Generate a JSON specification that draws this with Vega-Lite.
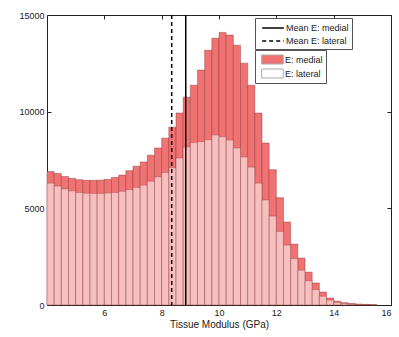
{
  "$schema": "https://vega.github.io/schema/vega-lite/v6.json",
  "width": 344,
  "height": 290,
  "autosize": {"type": "none"},
  "padding": {"left": 47, "top": 15, "right": 8, "bottom": 32},
  "background": "white",
  "config": {
    "view": {"stroke": "#222", "strokeWidth": 1},
    "font": "Liberation Sans",
    "axis": {"domainColor": "#222", "tickColor": "#222", "labelColor": "#222", "titleColor": "#222", "labelFontSize": 9, "titleFontSize": 10, "titleFontWeight": "normal", "grid": false, "tickSize": -4, "labelPadding": 7},
    "legend": {"title": null, "orient": "none", "strokeColor": "#555", "fillColor": "white", "padding": 3, "labelFontSize": 9, "labelFont": "Liberation Sans", "labelColor": "#222", "symbolSize": 144, "symbolOffset": 8, "labelOffset": 6, "rowPadding": 1}
  },
  "datasets": {
    "bins": [
      {"e":4.00,"e2":4.25,"series":"E: medial","count":6900},{"e":4.25,"e2":4.50,"series":"E: medial","count":6800},
      {"e":4.50,"e2":4.75,"series":"E: medial","count":6650},{"e":4.75,"e2":5.00,"series":"E: medial","count":6550},
      {"e":5.00,"e2":5.25,"series":"E: medial","count":6480},{"e":5.25,"e2":5.50,"series":"E: medial","count":6450},
      {"e":5.50,"e2":5.75,"series":"E: medial","count":6450},{"e":5.75,"e2":6.00,"series":"E: medial","count":6460},
      {"e":6.00,"e2":6.25,"series":"E: medial","count":6500},{"e":6.25,"e2":6.50,"series":"E: medial","count":6600},
      {"e":6.50,"e2":6.75,"series":"E: medial","count":6720},{"e":6.75,"e2":7.00,"series":"E: medial","count":6950},
      {"e":7.00,"e2":7.25,"series":"E: medial","count":7180},{"e":7.25,"e2":7.50,"series":"E: medial","count":7400},
      {"e":7.50,"e2":7.75,"series":"E: medial","count":7750},{"e":7.75,"e2":8.00,"series":"E: medial","count":8120},
      {"e":8.00,"e2":8.25,"series":"E: medial","count":8630},{"e":8.25,"e2":8.50,"series":"E: medial","count":9200},
      {"e":8.50,"e2":8.75,"series":"E: medial","count":9930},{"e":8.75,"e2":9.00,"series":"E: medial","count":10750},
      {"e":9.00,"e2":9.25,"series":"E: medial","count":11370},{"e":9.25,"e2":9.50,"series":"E: medial","count":12150},
      {"e":9.50,"e2":9.75,"series":"E: medial","count":13180},{"e":9.75,"e2":10.00,"series":"E: medial","count":13800},
      {"e":10.00,"e2":10.25,"series":"E: medial","count":14100},{"e":10.25,"e2":10.50,"series":"E: medial","count":13960},
      {"e":10.50,"e2":10.75,"series":"E: medial","count":13440},{"e":10.75,"e2":11.00,"series":"E: medial","count":12510},
      {"e":11.00,"e2":11.25,"series":"E: medial","count":11370},{"e":11.25,"e2":11.50,"series":"E: medial","count":9930},
      {"e":11.50,"e2":11.75,"series":"E: medial","count":8380},{"e":11.75,"e2":12.00,"series":"E: medial","count":7000},
      {"e":12.00,"e2":12.25,"series":"E: medial","count":5550},{"e":12.25,"e2":12.50,"series":"E: medial","count":4290},
      {"e":12.50,"e2":12.75,"series":"E: medial","count":3150},{"e":12.75,"e2":13.00,"series":"E: medial","count":2430},
      {"e":13.00,"e2":13.25,"series":"E: medial","count":1700},{"e":13.25,"e2":13.50,"series":"E: medial","count":1140},
      {"e":13.50,"e2":13.75,"series":"E: medial","count":670},{"e":13.75,"e2":14.00,"series":"E: medial","count":360},
      {"e":14.00,"e2":14.25,"series":"E: medial","count":200},{"e":14.25,"e2":14.50,"series":"E: medial","count":120},
      {"e":14.50,"e2":14.75,"series":"E: medial","count":80},{"e":14.75,"e2":15.00,"series":"E: medial","count":50},
      {"e":15.00,"e2":15.25,"series":"E: medial","count":30},{"e":15.25,"e2":15.50,"series":"E: medial","count":15},
      {"e":4.00,"e2":4.25,"series":"E: lateral","count":6300},{"e":4.25,"e2":4.50,"series":"E: lateral","count":6150},
      {"e":4.50,"e2":4.75,"series":"E: lateral","count":6000},{"e":4.75,"e2":5.00,"series":"E: lateral","count":5900},
      {"e":5.00,"e2":5.25,"series":"E: lateral","count":5820},{"e":5.25,"e2":5.50,"series":"E: lateral","count":5780},
      {"e":5.50,"e2":5.75,"series":"E: lateral","count":5770},{"e":5.75,"e2":6.00,"series":"E: lateral","count":5770},
      {"e":6.00,"e2":6.25,"series":"E: lateral","count":5790},{"e":6.25,"e2":6.50,"series":"E: lateral","count":5820},
      {"e":6.50,"e2":6.75,"series":"E: lateral","count":5880},{"e":6.75,"e2":7.00,"series":"E: lateral","count":5970},
      {"e":7.00,"e2":7.25,"series":"E: lateral","count":6080},{"e":7.25,"e2":7.50,"series":"E: lateral","count":6200},
      {"e":7.50,"e2":7.75,"series":"E: lateral","count":6400},{"e":7.75,"e2":8.00,"series":"E: lateral","count":6620},
      {"e":8.00,"e2":8.25,"series":"E: lateral","count":6850},{"e":8.25,"e2":8.50,"series":"E: lateral","count":7100},
      {"e":8.50,"e2":8.75,"series":"E: lateral","count":7600},{"e":8.75,"e2":9.00,"series":"E: lateral","count":8170},
      {"e":9.00,"e2":9.25,"series":"E: lateral","count":8400},{"e":9.25,"e2":9.50,"series":"E: lateral","count":8450},
      {"e":9.50,"e2":9.75,"series":"E: lateral","count":8550},{"e":9.75,"e2":10.00,"series":"E: lateral","count":8790},
      {"e":10.00,"e2":10.25,"series":"E: lateral","count":8700},{"e":10.25,"e2":10.50,"series":"E: lateral","count":8530},
      {"e":10.50,"e2":10.75,"series":"E: lateral","count":8120},{"e":10.75,"e2":11.00,"series":"E: lateral","count":7650},
      {"e":11.00,"e2":11.25,"series":"E: lateral","count":7130},{"e":11.25,"e2":11.50,"series":"E: lateral","count":6300},
      {"e":11.50,"e2":11.75,"series":"E: lateral","count":5430},{"e":11.75,"e2":12.00,"series":"E: lateral","count":4600},
      {"e":12.00,"e2":12.25,"series":"E: lateral","count":3800},{"e":12.25,"e2":12.50,"series":"E: lateral","count":3100},
      {"e":12.50,"e2":12.75,"series":"E: lateral","count":2400},{"e":12.75,"e2":13.00,"series":"E: lateral","count":1800},
      {"e":13.00,"e2":13.25,"series":"E: lateral","count":1250},{"e":13.25,"e2":13.50,"series":"E: lateral","count":800},
      {"e":13.50,"e2":13.75,"series":"E: lateral","count":450},{"e":13.75,"e2":14.00,"series":"E: lateral","count":250},
      {"e":14.00,"e2":14.25,"series":"E: lateral","count":130},{"e":14.25,"e2":14.50,"series":"E: lateral","count":70},
      {"e":14.50,"e2":14.75,"series":"E: lateral","count":35},{"e":14.75,"e2":15.00,"series":"E: lateral","count":20},
      {"e":15.00,"e2":15.25,"series":"E: lateral","count":10},{"e":15.25,"e2":15.50,"series":"E: lateral","count":5}
    ],
    "means": [
      {"series": "Mean E: medial", "mean": 8.84},
      {"series": "Mean E: lateral", "mean": 8.35}
    ]
  },
  "layer": [
    {
      "data": {"name": "bins"},
      "transform": [{"filter": "datum.series === 'E: medial'"}],
      "mark": {"type": "bar", "stroke": "#8a3030", "strokeWidth": 0.6, "strokeOpacity": 0.7},
      "encoding": {
        "x": {"field": "e", "type": "quantitative", "scale": {"domain": [4, 16], "nice": false, "zero": false},
              "axis": {"values": [6, 8, 10, 12, 14, 16], "title": "Tissue Modulus (GPa)", "titlePadding": 2}},
        "x2": {"field": "e2"},
        "y": {"field": "count", "type": "quantitative", "scale": {"domain": [0, 15000], "nice": false},
              "axis": {"values": [0, 5000, 10000, 15000], "title": null, "format": "d"}},
        "y2": {"datum": 0},
        "color": {"field": "series", "type": "nominal",
          "scale": {"domain": ["E: medial", "E: lateral"], "range": ["#f07272", "#ffffff"]},
          "legend": {
            "legendX": 208, "legendY": 35,
            "symbolType": "M-1.8,-0.75H1.8V0.75H-1.8Z", "symbolStrokeColor": "#aaaaaa", "symbolStrokeWidth": 1, "symbolOpacity": 1
          }}
      }
    },
    {
      "data": {"name": "bins"},
      "transform": [{"filter": "datum.series === 'E: lateral'"}],
      "mark": {"type": "bar", "fill": "#ffffff", "stroke": "#8a3030", "strokeWidth": 0.6, "strokeOpacity": 0.5, "fillOpacity": 0.55},
      "encoding": {
        "x": {"field": "e", "type": "quantitative", "axis": {"orient": "top", "values": [6, 8, 10, 12, 14, 16], "labels": false, "title": null, "domain": false}},
        "x2": {"field": "e2"},
        "y": {"field": "count", "type": "quantitative", "axis": {"orient": "right", "values": [0, 5000, 10000, 15000], "labels": false, "title": null, "domain": false}},
        "y2": {"datum": 0}
      }
    },
    {
      "data": {"name": "means"},
      "mark": {"type": "rule", "strokeWidth": 1.5, "color": "#000000"},
      "encoding": {
        "x": {"field": "mean", "type": "quantitative", "axis": null},
        "strokeDash": {"field": "series", "type": "nominal",
          "scale": {"domain": ["Mean E: medial", "Mean E: lateral"], "range": [[1, 0], [4, 3]]},
          "legend": {
            "legendX": 208, "legendY": 3,
            "symbolType": "M-1.8,0H1.8", "symbolStrokeColor": "#000000", "symbolStrokeWidth": 1.3
          }}
      }
    }
  ],
  "resolve": {"axis": {"x": "independent", "y": "independent"}}
}
